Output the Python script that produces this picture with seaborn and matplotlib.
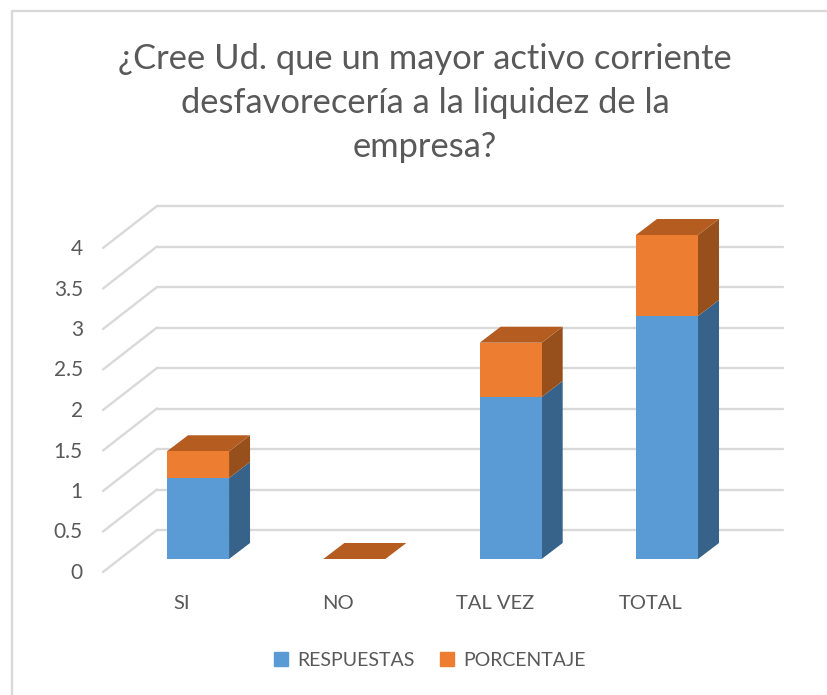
import matplotlib
matplotlib.use('Agg')
import matplotlib.pyplot as plt
import matplotlib.transforms as mtrans
from matplotlib.patches import Patch, Polygon
from matplotlib.lines import Line2D
import seaborn as sns

categorias = ['SI', 'NO', 'TAL VEZ', 'TOTAL']
respuestas = [1, 0, 2, 3]
porcentaje = [0.33, 0, 0.67, 1]
ticks = [0, 0.5, 1, 1.5, 2, 2.5, 3, 3.5, 4]
tick_labels = ['0', '0.5', '1', '1.5', '2', '2.5', '3', '3.5', '4']
titulo = '¿Cree Ud. que un mayor activo corriente\ndesfavorecería a la liquidez de la\nempresa?'

AZUL, AZUL_LADO = '#5B9BD5', '#37638A'
NARANJA, NARANJA_LADO, NARANJA_TOPE = '#ED7D31', '#97501B', '#B55D20'
GRIS, TEXTO = '#D9D9D9', '#595959'

W, H = 827, 695
sns.set_theme(style='white')
plt.rcParams['font.family'] = ['Lato', 'DejaVu Sans']

fig = plt.figure(figsize=(W / 100, H / 100), dpi=100)

# front plane of the bars, in pixels of the picture
PX_CAT = 156.3
PX_UNI = 81.0
left, right = 198 - PX_CAT / 2, 667 + PX_CAT / 2
base, top = 559, 559 - 4 * PX_UNI
ax = fig.add_axes([left / W, 1 - base / H, (right - left) / W, (base - top) / H])

totales = [r + p for r, p in zip(respuestas, porcentaje)]
sns.barplot(x=categorias, y=totales, color=NARANJA, saturation=1, width=0.397, ax=ax, zorder=3, linewidth=0)
sns.barplot(x=categorias, y=respuestas, color=AZUL, saturation=1, width=0.397, ax=ax, zorder=3, linewidth=0)
ax.set_xlim(-0.5, 3.5)
ax.set_ylim(0, 4)
ax.set_xlabel('')
ax.set_ylabel('')
sns.despine(ax=ax, left=True, bottom=True, top=True, right=True)


def pixel_shift(dx, dy):
    return mtrans.ScaledTranslation(dx / 100, -dy / 100, fig.dpi_scale_trans)


# gridlines run along the floor and the back wall, they do not sit on the bar plane
frente = ax.get_yaxis_transform() + pixel_shift(0, 13)
x_grid = [(px - left) / (right - left) for px in (103, 157, 783)]
for v in ticks:
    ax.plot(x_grid[:2], [v, v + 42 / PX_UNI], color=GRIS, lw=1.7, clip_on=False, zorder=1, transform=frente)
    ax.plot(x_grid[1:], [v + 42 / PX_UNI] * 2, color=GRIS, lw=1.7, clip_on=False, zorder=1, transform=frente)

# side and top faces of every bar
ANCHO = 0.397 / 2
DX, DY = 21 / PX_CAT, 16 / PX_UNI
for i, (r, t) in enumerate(zip(respuestas, totales)):
    x1 = i + ANCHO
    ax.add_patch(Polygon([(x1, 0), (x1 + DX, DY), (x1 + DX, r + DY), (x1, r)], fc=AZUL_LADO, ec='none', zorder=2.5, clip_on=False))
    ax.add_patch(Polygon([(x1, r), (x1 + DX, r + DY), (x1 + DX, t + DY), (x1, t)], fc=NARANJA_LADO, ec='none', zorder=2.5, clip_on=False))
    ax.add_patch(Polygon([(i - ANCHO, t), (x1, t), (x1 + DX, t + DY), (i - ANCHO + DX, t + DY)], fc=NARANJA_TOPE, ec='none', zorder=2.5, clip_on=False))

ax.set_yticks(ticks)
ax.set_yticklabels(tick_labels, fontsize=15, color=TEXTO)
ax.tick_params(axis='both', length=0, pad=0)
for lab in ax.get_yticklabels():
    lab.set_transform(lab.get_transform() + pixel_shift(-37, 12))
ax.set_xticks(range(len(categorias)))
ax.set_xticklabels(categorias, fontsize=14.5, color=TEXTO)
for lab in ax.get_xticklabels():
    lab.set_transform(lab.get_transform() + pixel_shift(-16, 36))

fig.text(425 / W, 1 - 103 / H, titulo, ha='center', va='center', fontsize=24.8, color=TEXTO, linespacing=1.48)

handles = [Patch(color=AZUL, label='RESPUESTAS'), Patch(color=NARANJA, label='PORCENTAJE')]
fig.legend(handles=handles, loc='center', bbox_to_anchor=(430 / W, 1 - 660 / H), ncol=2, frameon=False,
           fontsize=14, labelcolor=TEXTO, handlelength=0.7, handleheight=0.7, handletextpad=0.5, columnspacing=1.3)

# chart frame, only top and left reach the crop
fig.add_artist(Line2D([11.5 / W, 11.5 / W, 1], [0, 1 - 10.5 / H, 1 - 10.5 / H], color=GRIS, lw=1.7))

fig.savefig('out.png', dpi=100)
